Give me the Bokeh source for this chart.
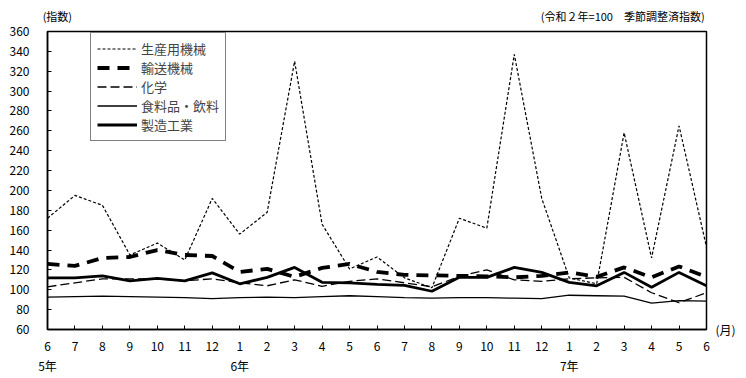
from bokeh.plotting import figure
from bokeh.models import Range1d, FixedTicker, Legend, LegendItem, LinearAxis
from bokeh.embed import file_html
from bokeh.resources import INLINE

# ---- data ----
months = ["6", "7", "8", "9", "10", "11", "12", "1", "2", "3", "4", "5", "6",
          "7", "8", "9", "10", "11", "12", "1", "2", "3", "4", "5", "6"]
year_labels = ["5年", "6年", "7年"]
year_index = [0, 7, 19]

series_names = ["生産用機械", "輸送機械", "化学", "食料品・飲料", "製造工業"]
seisan = [172, 195, 185, 135, 147, 130, 192, 156, 178, 330, 166, 121, 133,
          112, 102, 172, 162, 337, 192, 112, 106, 258, 132, 265, 143]
yuso = [126, 124, 132, 133, 140, 135, 134, 118, 121, 113, 122, 126, 118,
        115, 114.5, 114, 113.5, 112.5, 114, 117.5, 113, 122.5, 112.5, 123.5, 113]
kagaku = [103, 107, 111, 111, 111, 109, 111, 107, 104, 110, 103.5, 108.5, 111,
          107, 103, 113.5, 120, 110, 108.5, 111, 112, 112.5, 97, 87, 97]
shokuryo = [92.5, 93, 93.5, 93, 92.5, 92, 91, 92, 92.5, 92, 93, 94, 93,
            92, 91.5, 92, 92, 91.5, 91, 94.5, 94, 93.5, 86.5, 89, 88.5]
seizo = [112, 112, 114, 109, 111.5, 109, 117, 106, 112.5, 122.5, 107.5, 107, 105.5,
         104.5, 98.5, 112.5, 112.5, 122.5, 117.5, 107.5, 104, 117.5, 102.5, 117.5, 104]
y_ticks = list(range(60, 361, 20))

unit_label = "(指数)"
base_label = "(令和２年=100　季節調整済指数)"
month_unit = "(月)"

x = list(range(len(months)))
FONT = "Noto Sans CJK JP"

p = figure(width=740, height=376, output_backend="svg", toolbar_location=None,
           x_range=Range1d(0, len(months) - 1), y_range=Range1d(60, 360),
           min_border_left=47, min_border_right=34, min_border_top=31, min_border_bottom=44)
p.xgrid.visible = False
p.ygrid.visible = False
p.outline_line_color = "black"
p.outline_line_width = 1.5
p.background_fill_color = "white"
p.border_fill_color = "white"

for ax in (p.xaxis[0], p.yaxis[0]):
    ax.axis_line_color = "black"
    ax.axis_line_width = 1.5
    ax.major_tick_in = 4
    ax.major_tick_out = 0
    ax.minor_tick_line_color = None
    ax.major_tick_line_color = "black"
    ax.major_label_text_font = FONT
    ax.major_label_text_font_size = "12px"
    ax.major_label_text_color = "black"

p.xaxis[0].ticker = FixedTicker(ticks=x)
p.xaxis[0].major_label_overrides = {i: m for i, m in enumerate(months)}
p.xaxis[0].major_label_standoff = 12
p.yaxis[0].ticker = FixedTicker(ticks=y_ticks)
p.yaxis[0].major_label_standoff = 18


def text_axis(ticks, labels, size="12px", standoff=4):
    ax = LinearAxis(ticker=FixedTicker(ticks=ticks),
                    major_label_overrides={t: l for t, l in zip(ticks, labels)})
    ax.axis_line_color = None
    ax.major_tick_line_color = None
    ax.minor_tick_line_color = None
    ax.major_tick_in = 0
    ax.major_tick_out = 0
    ax.major_label_standoff = standoff
    ax.major_label_text_font = FONT
    ax.major_label_text_font_size = size
    ax.major_label_text_color = "black"
    return ax


# year row under the month labels
p.add_layout(text_axis(year_index, year_labels, standoff=3), "below")
# "(月)" to the right of the last month
p.add_layout(text_axis([60], [month_unit], standoff=9), "right")
# texts above the frame
p.add_layout(text_axis([0.36, 20.95], [unit_label, base_label], size="11px", standoff=8), "above")

r1 = p.line(x, seisan, line_color="black", line_width=1.2, line_dash="3 2")
r2 = p.line(x, yuso, line_color="black", line_width=3.8, line_dash="12 8")
r3 = p.line(x, kagaku, line_color="black", line_width=1.3, line_dash="9 4")
r4 = p.line(x, shokuryo, line_color="black", line_width=1.3)
r5 = p.line(x, seizo, line_color="black", line_width=2.8)

legend = Legend(items=[LegendItem(label=n, renderers=[r]) for n, r in
                       zip(series_names, [r1, r2, r3, r4, r5])],
                location=(43, 188), orientation="vertical")
legend.label_text_font = FONT
legend.label_text_font_size = "13px"
legend.border_line_color = "black"
legend.border_line_width = 1.5
legend.background_fill_alpha = 1.0
legend.padding = 6
legend.spacing = 0
legend.margin = 0
legend.glyph_width = 40
legend.glyph_height = 19
legend.label_height = 19
legend.label_standoff = 4
p.add_layout(legend, "center")

open("out.html", "w").write(file_html(p, INLINE))
